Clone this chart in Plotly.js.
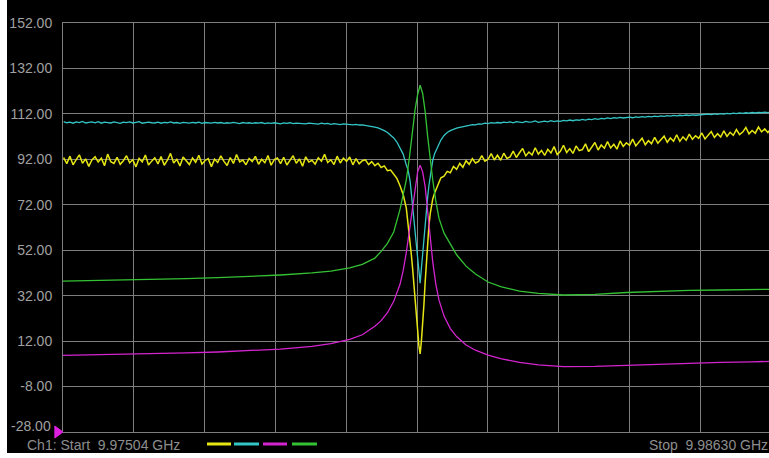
<!DOCTYPE html>
<html>
<head>
<meta charset="utf-8">
<script src="https://cdn.plot.ly/plotly-3.0.1.min.js"></script>
<style>
html,body{margin:0;padding:0;background:#ffffff;overflow:hidden;width:769px;height:458px;}
#chart{position:absolute;left:7px;top:0;width:770px;height:453px;}
</style>
</head>
<body>
<div id="chart"></div>
<script>
// Sweep points (MHz) for the noisy traces (yellow, cyan)
const freqDense = [
 9975.05,9975.10,9975.15,9975.20,9975.25,9975.30,9975.35,9975.40,9975.45,9975.50,9975.55,9975.60,9975.65,9975.70,9975.75,9975.80,9975.85,9975.90,9975.95,
 9976.00,9976.05,9976.10,9976.15,9976.20,9976.25,9976.30,9976.35,9976.40,9976.45,9976.50,9976.55,9976.60,9976.65,9976.70,9976.75,9976.80,9976.85,9976.90,9976.95,
 9977.00,9977.05,9977.10,9977.15,9977.20,9977.25,9977.30,9977.35,9977.40,9977.45,9977.50,9977.55,9977.60,9977.65,9977.70,9977.75,9977.80,9977.85,9977.90,9977.95,
 9978.00,9978.05,9978.10,9978.15,9978.20,9978.25,9978.30,9978.35,9978.40,9978.45,9978.50,9978.55,9978.60,9978.65,9978.70,9978.75,9978.80,9978.85,9978.90,9978.95,
 9979.00,9979.05,9979.10,9979.15,9979.20,9979.25,9979.30,9979.35,9979.40,9979.45,9979.50,9979.55,9979.60,9979.65,9979.70,9979.75,9979.80,9979.85,9979.90,9979.95,
 9980.00,9980.05,9980.10,9980.15,9980.20,9980.25,9980.30,9980.35,9980.40,9980.45,9980.50,
 9980.52,9980.54,9980.56,9980.58,9980.60,9980.62,9980.64,9980.66,9980.68,9980.70,9980.72,9980.74,9980.76,9980.78,9980.80,9980.82,9980.84,9980.86,9980.88,9980.90,9980.92,
 9980.95,
 9981.00,9981.05,9981.10,9981.15,9981.20,9981.25,9981.30,9981.35,9981.40,9981.45,9981.50,9981.55,9981.60,9981.65,9981.70,9981.75,9981.80,9981.85,9981.90,9981.95,
 9982.00,9982.05,9982.10,9982.15,9982.20,9982.25,9982.30,9982.35,9982.40,9982.45,9982.50,9982.55,9982.60,9982.65,9982.70,9982.75,9982.80,9982.85,9982.90,9982.95,
 9983.00,9983.05,9983.10,9983.15,9983.20,9983.25,9983.30,9983.35,9983.40,9983.45,9983.50,9983.55,9983.60,9983.65,9983.70,9983.75,9983.80,9983.85,9983.90,9983.95,
 9984.00,9984.05,9984.10,9984.15,9984.20,9984.25,9984.30,9984.35,9984.40,9984.45,9984.50,9984.55,9984.60,9984.65,9984.70,9984.75,9984.80,9984.85,9984.90,9984.95,
 9985.00,9985.05,9985.10,9985.15,9985.20,9985.25,9985.30,9985.35,9985.40,9985.45,9985.50,9985.55,9985.60,9985.65,9985.70,9985.75,9985.80,9985.85,9985.90,9985.95,
 9986.00,9986.05,9986.10,9986.15,9986.20,9986.25,9986.30
];

// Trace 1 (yellow)
const yellowVals = [
 92.8,90.1,93.4,89.6,91.9,94.0,90.3,92.2,88.9,91.7,93.1,90.8,92.5,89.2,94.3,91.0,90.2,92.9,89.8,
 91.4,93.6,90.5,91.8,88.7,92.4,90.9,93.9,89.5,91.2,92.7,90.0,93.2,89.4,91.6,94.6,90.4,92.0,89.1,93.0,
 91.3,89.7,92.6,90.7,93.8,89.9,91.5,92.3,88.8,92.1,90.6,93.5,91.1,89.3,92.8,90.2,94.1,90.9,91.7,89.6,
 92.4,91.0,93.3,89.8,92.0,90.5,93.7,89.4,91.9,92.6,90.1,92.9,89.5,91.4,93.6,90.3,92.2,89.0,93.1,90.8,
 91.6,89.9,92.7,91.2,94.2,90.6,91.8,89.7,93.4,90.4,92.5,91.1,93.0,89.6,92.3,90.0,91.4,91.8,89.7,91.0,
 89.2,90.3,88.4,89.1,87.0,87.3,85.2,83.6,80.4,76.5,70.5,
 66,61,55,50,44,38,31,24,17,10,6.4,12,19,28,38,48,57,63,68,72,74.5,
 77.2,
 80.8,83.9,84.6,86.7,86.1,88.9,87.6,90.2,88.5,91.4,89.8,92.3,90.4,91.1,93.6,91.2,92.0,94.5,91.7,93.8,
 91.6,94.7,92.4,93.1,95.6,92.8,94.9,96.8,93.5,95.2,93.9,97.1,94.3,95.9,93.7,96.4,94.8,97.6,94.1,95.5,
 98.2,95.0,96.7,94.6,97.9,95.8,96.3,98.8,95.4,97.2,99.4,96.1,98.3,96.9,99.8,97.0,98.6,96.5,100.1,97.7,
 99.3,98.2,100.9,97.9,99.6,101.3,98.4,100.2,98.9,101.7,99.1,100.6,102.2,99.5,101.4,100.0,102.8,99.9,101.9,100.4,
 103.1,100.8,102.4,101.2,103.6,101.0,102.7,104.2,101.6,103.3,101.8,104.5,102.1,103.9,102.6,105.1,102.9,104.0,106.0,103.2,
 104.7,103.5,106.2,104.1,105.4,103.8,105.6
];

// Trace 2 (cyan)
const cyanVals = [
 108.6,108.1,108.4,107.9,108.5,108.2,108.7,108.0,108.3,108.5,108.1,108.6,107.9,108.4,108.2,108.0,108.5,108.3,107.8,
 108.4,108.2,108.5,108.0,108.3,108.6,107.9,108.2,108.4,108.1,108.0,108.4,107.9,108.3,108.1,108.5,108.0,108.2,107.8,108.3,
 108.1,107.9,108.3,108.0,108.4,107.8,108.2,108.1,107.9,108.3,108.0,108.2,107.8,108.1,107.9,108.3,108.0,107.7,108.2,107.9,
 108.1,107.8,108.1,107.9,108.2,107.7,108.0,107.8,108.1,107.9,107.6,108.0,107.8,108.1,107.7,107.9,107.8,108.0,107.6,107.9,
 107.7,107.8,107.5,107.9,107.6,107.8,107.4,107.7,107.6,107.3,107.6,107.4,107.5,107.2,107.4,107.1,107.2,107.0,106.8,106.6,
 106.2,105.8,105.3,104.6,103.8,102.8,101.4,99.6,97.2,94.3,89.5,
 88,85.5,82.5,77,71,65,59,53,47,42,37.5,44,51,57,64,70,75.5,80.5,85,88.5,91.5,
 94.5,
 97.5,100.5,102.5,103.8,104.6,105.3,105.7,106.1,106.3,106.8,106.9,107.3,107.2,107.6,107.5,107.9,107.7,108.1,107.9,108.2,
 108.0,108.4,108.2,108.5,108.1,108.6,108.3,108.2,108.7,108.4,108.5,108.9,108.3,108.6,108.8,108.5,109.0,108.6,108.9,108.7,
 109.1,108.9,109.3,109.0,109.4,109.2,109.6,109.3,109.7,109.5,109.9,109.6,110.0,109.8,110.2,109.9,110.3,110.1,110.5,110.2,
 110.4,110.6,110.3,110.7,110.5,110.8,110.6,110.9,110.7,111.0,110.8,111.1,110.9,111.2,111.0,111.3,111.1,111.4,111.2,111.5,
 111.3,111.6,111.4,111.5,111.8,111.6,111.9,111.7,112.0,111.8,112.1,111.9,112.2,112.0,112.3,112.1,112.4,112.2,112.5,112.3,
 112.6,112.4,112.7,112.5,112.8,112.6,112.9
];

// Sweep points (MHz) for the smooth traces (magenta, green)
const freqSmooth = [
 9975.04,9975.5,9976,9976.5,9977,9977.5,9978,9978.5,9979,9979.3,9979.6,9979.8,
 9980,9980.1,9980.2,9980.3,9980.4,9980.45,9980.5,9980.55,9980.6,9980.64,9980.68,
 9980.72,
 9980.76,9980.8,9980.84,9980.88,9980.92,9980.97,
 9981.02,9981.1,9981.2,9981.3,9981.45,9981.6,9981.8,
 9982,9982.3,9982.6,
 9983,9983.5,9984,9984.5,9985,9985.5,9986,9986.3
];

// Trace 3 (magenta)
const magentaVals = [
 5.7,5.9,6.2,6.5,6.8,7.2,7.7,8.5,9.7,10.9,12.8,14.8,
 18.5,21,24.5,29.5,37,43,51,61,72,80,86.5,
 89.4,
 86.5,80,69,57,47,37,
 30,23,17.5,14,10.3,8,5.8,
 4.3,2.6,1.5,
 0.8,0.9,1.4,1.9,2.3,2.6,2.9,3.1
];

// Trace 4 (green)
const greenVals = [
 38.4,38.6,38.9,39.2,39.5,39.9,40.4,41.1,42.0,42.8,44.2,45.8,
 48.5,51.5,55,60,70,76,83,93,105,114,120.5,
 124.6,
 121,113,102,92,83,73.5,
 66,59.5,54.5,50,45,41.5,38,
 36,34,33,
 32.3,32.6,33.4,33.9,34.3,34.5,34.7,34.8
];

const yTickVals = [-28,-8,12,32,52,72,92,112,132,152];
const yTickLabels = ['-28.00','-8.00','12.00','32.00','52.00','72.00','92.00','112.00','132.00','152.00'];
const startLabel = 'Ch1: Start\u00a0\u00a09.97504 GHz';
const stopLabel = 'Stop\u00a0\u00a09.98630 GHz';
const traceColors = ['#e6e614','#34c6c6','#d424d0','#34c234'];

const traces = [
 {x: freqDense, y: yellowVals, mode:'lines', line:{color:traceColors[0], width:1.5}, hoverinfo:'skip'},
 {x: freqDense, y: cyanVals, mode:'lines', line:{color:traceColors[1], width:1.3}, hoverinfo:'skip'},
 {x: freqSmooth, y: magentaVals, mode:'lines', line:{color:traceColors[2], width:1.3}, hoverinfo:'skip'},
 {x: freqSmooth, y: greenVals, mode:'lines', line:{color:traceColors[3], width:1.3}, hoverinfo:'skip'}
];

const gridCol = '#7e7e7e';
const txtCol = '#a0a0a0';
const fontFam = 'Liberation Sans, Arial, sans-serif';

// bottom tick label is drawn slightly raised (as on the instrument screen)
const shownTickText = yTickLabels.map((t,i)=> i===0 ? '' : t);

const dashY = -0.0293;
const dashSegs = [[0.2034,0.2373],[0.2415,0.2768],[0.2825,0.3164],[0.3234,0.3588]];
const shapes = dashSegs.map((s,i)=>({type:'line', xref:'paper', yref:'paper', x0:s[0], x1:s[1], y0:dashY, y1:dashY, line:{color:traceColors[i], width:3}}));
shapes.push({type:'path', xref:'paper', yref:'paper', layer:'above', path:'M -0.0115 0.0147 L 0 0 L -0.0115 -0.0147 Z', fillcolor:'#e020e0', line:{color:'#e020e0', width:1}});

const layout = {
 width: 770, height: 453,
 margin: {l:56, r:6, t:23, b:21},
 paper_bgcolor:'#000000', plot_bgcolor:'#000000',
 showlegend:false,
 xaxis: {range:[9975.04, 9986.30], tick0:9975.04, dtick:1.126, showticklabels:false,
   showgrid:true, gridcolor:gridCol, gridwidth:1, zeroline:false,
   showline:true, mirror:true, linecolor:gridCol, linewidth:1, ticks:''},
 yaxis: {range:[-28,152], tickmode:'array', tickvals:yTickVals, ticktext:shownTickText,
   showgrid:true, gridcolor:gridCol, gridwidth:1, zeroline:false,
   showline:true, mirror:true, linecolor:gridCol, linewidth:1,
   ticks:'outside', ticklen:7, tickcolor:'#000000',
   tickfont:{family:fontFam, size:14, color:txtCol}},
 shapes: shapes,
 annotations: [
  {text:yTickLabels[0], xref:'paper', yref:'y', x:-0.0141, y:yTickVals[0], yshift:6, xanchor:'right', yanchor:'middle', showarrow:false, font:{family:fontFam, size:14, color:txtCol}},
  {text:startLabel, xref:'paper', yref:'paper', x:-0.0537, y:-0.0318, xanchor:'left', yanchor:'middle', showarrow:false, font:{family:fontFam, size:14, color:'#8e8e8e'}},
  {text:stopLabel, xref:'paper', yref:'paper', x:0.999, y:-0.0318, xanchor:'right', yanchor:'middle', showarrow:false, font:{family:fontFam, size:14, color:'#8e8e8e'}}
 ]
};

Plotly.newPlot('chart', traces, layout, {staticPlot:true, displayModeBar:false});
</script>
</body>
</html>
